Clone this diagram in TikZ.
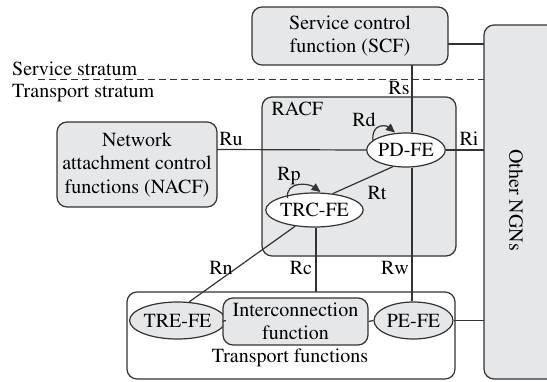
\documentclass[tikz,border=0pt]{standalone}
\usepackage[T1]{fontenc}
\usepackage{times}
\usetikzlibrary{shapes.geometric,arrows.meta,calc}
\definecolor{boxgray}{HTML}{E6E7E8}
\definecolor{linegray}{HTML}{333333}
\begin{document}
\begin{tikzpicture}[x=1pt,y=-1pt,
  every node/.style={font=\rmfamily\fontsize{20}{23.5}\selectfont, text=black},
  box/.style={draw=linegray, line width=1.2pt, fill=boxgray, rounded corners=10pt},
  ell/.style={draw=linegray, line width=1.2pt, ellipse, inner sep=0pt},
  conn/.style={draw=linegray, line width=1.2pt},
  loopar/.style={conn, -{Triangle[length=9pt,width=8pt]}},
  lbl/.style={inner sep=1pt}]
\useasboundingbox (0,0) rectangle (547,381);
\clip (0,0) rectangle (547,381);
% boxes
\draw[box] (484,25) rectangle (600,379);
\node[rotate=-90] (ngn) at (516,200) {Other NGNs};
\coordinate (ngnL) at (484,200);
\draw[box] (252,7) rectangle (448,65);
\node[align=center] (scf) at (350,36) {Service control\\function (SCF)};
\draw[box] (262,97) rectangle (456,256);
\node[anchor=north west] (racf) at (268,98) {RACF};
\draw[box] (57,122) rectangle (217,207);
\node[align=center] (nacf) at (137,165) {Network\\attachment control\\functions (NACF)};
\draw[draw=linegray, line width=1.2pt, rounded corners=10pt] (127,292) rectangle (455,379);
\node (tf) at (290,358) {Transport functions};
% strata
\node[anchor=south west, inner sep=0pt] (ss) at (12,76) {Service stratum};
\node[anchor=north west, inner sep=0pt] (ts) at (12,84) {Transport stratum};
\draw[draw=linegray, line width=1pt, dash pattern=on 7pt off 4pt] (38,79) -- (484,79);
% ellipses
\node[ell, fill=white, minimum width=76pt, minimum height=34pt] (pd) at (406,150) {PD-FE};
\node[ell, fill=white, minimum width=77pt, minimum height=34pt] (trc) at (314.5,210) {TRC-FE};
\node[ell, fill=boxgray, minimum width=79pt, minimum height=37pt] (tre) at (177.5,320.5) {TRE-FE};
\node[ell, fill=boxgray, minimum width=79pt, minimum height=37pt] (pe) at (413.5,320.5) {PE-FE};
\node[box, minimum width=145pt, minimum height=47pt, align=center, inner sep=0pt] (ic) at (295.5,321.5) {Interconnection\\function};
% connectors
\coordinate (scfB) at (412,65);
\coordinate (scfR) at (448,44);
\coordinate (ngnT) at (484,44);
\coordinate (nacfR) at (217,149.5);
\coordinate (tfT) at (316,292);
\draw[conn] (scfR) -- (ngnT);
\draw[conn] (scfB) -- (pd.north -| scfB);
\draw[conn] (nacfR) -- (pd.west);
\draw[conn] (pd.east) -- (ngnL |- pd.east);
\draw[conn] (pd.south -| scfB) -- (pe.north -| scfB);
\draw[conn] (pd.-128) -- (trc.42);
\draw[conn] (trc.south -| tfT) -- (tfT);
\draw[conn] (trc.-140) -- (tre.58);
\draw[conn] (tre.east) -- (ic.west);
\draw[conn] (ic.east) -- (pe.west);
\draw[conn] (pe.east) -- (ngnL |- pe.east);
% self loops
\draw[loopar] ($(pd)+(-33,-9)$) .. controls ($(pd)+(-35,-27)$) and ($(pd)+(-20,-25)$) .. ($(pd)+(-11,-17.5)$);
\draw[loopar] ($(trc)+(-27,-12)$) .. controls ($(trc)+(-29,-29)$) and ($(trc)+(-6,-27)$) .. ($(trc)+(6,-18)$);
% labels
\node[lbl] (lRs) at (399,88) {Rs};
\node[lbl] (lRu) at (231,139) {Ru};
\node[lbl] (lRi) at (469,139) {Ri};
\node[lbl] (lRd) at (364,120) {Rd};
\node[lbl] (lRp) at (289,176) {Rp};
\node[lbl] (lRt) at (377,193) {Rt};
\node[lbl] (lRn) at (221,268) {Rn};
\node[lbl] (lRc) at (301,268) {Rc};
\node[lbl] (lRw) at (395,268) {Rw};
\end{tikzpicture}
\end{document}
